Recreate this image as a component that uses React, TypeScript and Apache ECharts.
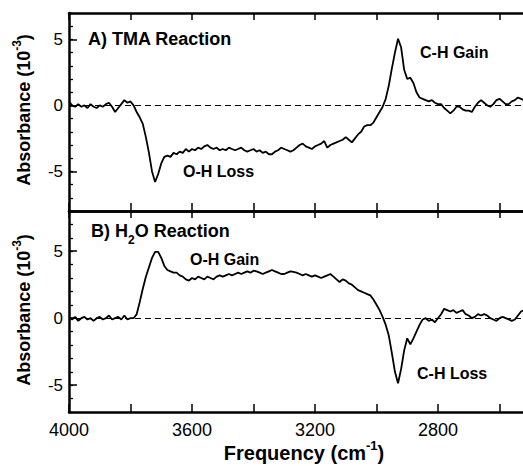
import React, { useEffect, useRef } from "react";
import * as echarts from "echarts";

// Frequency grid (cm-1), every 10 cm-1
const frequency = [
  4000, 3990, 3980, 3970, 3960, 3950, 3940, 3930, 3920, 3910,
  3900, 3890, 3880, 3870, 3860, 3850, 3840, 3830, 3820, 3810,
  3800, 3790, 3780, 3770, 3760, 3750, 3740, 3730, 3720, 3710,
  3700, 3690, 3680, 3670, 3660, 3650, 3640, 3630, 3620, 3610,
  3600, 3590, 3580, 3570, 3560, 3550, 3540, 3530, 3520, 3510,
  3500, 3490, 3480, 3470, 3460, 3450, 3440, 3430, 3420, 3410,
  3400, 3390, 3380, 3370, 3360, 3350, 3340, 3330, 3320, 3310,
  3300, 3290, 3280, 3270, 3260, 3250, 3240, 3230, 3220, 3210,
  3200, 3190, 3180, 3170, 3160, 3150, 3140, 3130, 3120, 3110,
  3100, 3090, 3080, 3070, 3060, 3050, 3040, 3030, 3020, 3010,
  3000, 2990, 2980, 2970, 2960, 2950, 2940, 2930, 2920, 2910,
  2900, 2890, 2880, 2870, 2860, 2850, 2840, 2830, 2820, 2810,
  2800, 2790, 2780, 2770, 2760, 2750, 2740, 2730, 2720, 2710,
  2700, 2690, 2680, 2670, 2660, 2650, 2640, 2630, 2620, 2610,
  2600, 2590, 2580, 2570, 2560, 2550, 2540, 2530, 2520,
];

// Panel A: TMA reaction, absorbance (10^-3)
const tmaAbsorbance = [
  0.3, 0.0, -0.1, 0.1, -0.1, 0.0, -0.2, 0.1, -0.1, -0.2,
  0.0, -0.1, 0.1, 0.2, -0.1, -0.5, -0.2, 0.1, 0.4, 0.2,
  0.3, 0.0, -0.5, -0.9, -1.4, -2.4, -3.6, -5.0, -5.8, -5.2,
  -4.4, -3.9, -3.8, -3.9, -3.6, -3.7, -3.5, -3.6, -3.3, -3.5,
  -3.3, -3.4, -3.2, -3.3, -3.1, -3.0, -3.2, -3.3, -3.2, -3.4,
  -3.3, -3.4, -3.2, -3.3, -3.4, -3.3, -3.2, -3.4, -3.5, -3.4,
  -3.3, -3.5, -3.4, -3.6, -3.5, -3.7, -3.7, -3.5, -3.4, -3.2,
  -3.3, -3.4, -3.5, -3.4, -3.2, -3.0, -2.9, -3.1, -3.2, -3.3,
  -3.1, -3.0, -2.9, -2.7, -3.2, -3.0, -2.9, -2.8, -2.7, -2.6,
  -2.4, -2.6, -2.8, -2.5, -2.2, -2.0, -1.6, -1.5, -1.5, -1.3,
  -0.9, -0.5, -0.1, 0.5, 1.5, 2.8, 4.0, 5.05, 4.4, 2.7,
  2.0, 2.1, 1.7, 1.0, 0.6, 0.5, 0.4, 0.3, 0.4, 0.2,
  0.1, 0.1, -0.2, -0.4, -0.6, -0.4, -0.1, -0.1, -0.3, -0.4,
  -0.4, -0.5, -0.1, 0.2, 0.4, 0.2, 0.0, -0.1, 0.1, 0.4,
  0.5, 0.3, 0.1, 0.1, 0.3, 0.4, 0.6, 0.5, 0.4,
];

// Panel B: H2O reaction, absorbance (10^-3)
const waterAbsorbance = [
  0.1, -0.1, 0.1, -0.2, 0.0, 0.1, -0.1, 0.0, -0.2, 0.0,
  0.1, -0.1, 0.0, 0.2, -0.1, 0.0, 0.1, -0.1, 0.2, -0.1,
  0.0, 0.0, 0.3, 1.2, 2.2, 3.1, 3.8, 4.5, 4.95, 4.95,
  4.5, 3.9, 3.6, 3.5, 3.4, 3.4, 3.2, 3.1, 2.9, 2.8,
  3.0, 2.9, 3.1, 3.0, 2.9, 3.1, 3.0, 2.9, 3.1, 3.2,
  3.1, 3.2, 3.3, 3.2, 3.3, 3.4, 3.3, 3.4, 3.5, 3.4,
  3.55, 3.5, 3.4, 3.3, 3.4, 3.5, 3.6, 3.5, 3.4, 3.3,
  3.3, 3.4, 3.5, 3.45, 3.4, 3.3, 3.2, 3.3, 3.2, 3.1,
  3.2, 3.1, 3.0, 3.1, 3.2, 3.3, 3.1, 2.9, 2.7, 2.9,
  2.8, 2.6, 2.5, 2.3, 2.1, 2.0, 1.9, 1.8, 1.7, 1.4,
  1.0, 0.6, 0.1, -0.5, -1.3, -2.6, -4.0, -4.85, -3.8, -2.4,
  -1.5, -1.95, -1.5, -1.0, -0.5, -0.1, 0.0, -0.2, -0.1, -0.3,
  0.0, 0.3, 0.7, 0.6, 0.5, 0.6, 0.4, 0.5, 0.6, 0.3,
  0.2, 0.0, 0.1, 0.3, 0.2, 0.3, 0.2, 0.0, -0.1, -0.2,
  0.0, 0.1, 0.0, -0.1, -0.2, -0.1, 0.2, 0.5, 0.6,
];

const yMajorTicks = [-5, 0, 5];
const xLabelTicks = [4000, 3600, 3200, 2800];

const FONT = "'Liberation Sans', Arial, Helvetica, sans-serif";

export default function App() {
  const ref = useRef<HTMLDivElement>(null);

  useEffect(() => {
    if (!ref.current) return;
    const chart = echarts.init(ref.current, null, { renderer: "svg" });

    const left = 69;
    const width = 492;
    const xBase = {
      type: "value" as const,
      min: 2400,
      max: 4000,
      interval: 200,
      inverse: true,
      splitLine: { show: false },
      axisLine: { show: true, onZero: false, lineStyle: { color: "#000", width: 2.5 } },
      axisTick: { show: true, inside: true, length: 8, lineStyle: { color: "#000", width: 1.5 } },
      axisLabel: { show: false },
    };

    // minor ticks every 1 unit, no labels
    const yMinor = (min: number, max: number, gridIndex: number) => ({
      type: "value" as const,
      gridIndex,
      min,
      max,
      interval: 1,
      position: "left" as const,
      splitLine: { show: false },
      axisLine: { show: true, onZero: false, lineStyle: { color: "#000", width: 2.5 } },
      axisTick: { show: true, inside: true, length: 4, lineStyle: { color: "#000", width: 1.3 } },
      axisLabel: { show: false },
    });
    // major ticks and labels at -5, 0, 5
    const yMajor = (min: number, max: number, gridIndex: number) => ({
      type: "value" as const,
      gridIndex,
      min,
      max,
      interval: 1,
      position: "left" as const,
      splitLine: { show: false },
      axisLine: { show: false },
      axisTick: {
        show: true,
        inside: true,
        length: 8,
        customValues: yMajorTicks,
        lineStyle: { color: "#000", width: 1.5 },
      },
      axisLabel: {
        show: true,
        customValues: yMajorTicks,
        margin: 6,
        color: "#000",
        fontSize: 17,
        fontFamily: FONT,
        formatter: (v: number) => String(v),
      },
    });

    const zeroLine = {
      silent: true,
      symbol: ["none", "none"],
      label: { show: false },
      lineStyle: { color: "#000", type: [6, 4], width: 1.2 },
      data: [{ yAxis: 0 }],
    };

    const textEl = (text: string, x: number, y: number, size: number) => ({
      type: "text",
      x,
      y,
      style: {
        text,
        fill: "#000",
        fontSize: size,
        fontWeight: "bold",
        fontFamily: FONT,
        align: "left",
        verticalAlign: "middle",
      },
    });

    const absRich = {
      a: { fontSize: 18, fontWeight: "bold", fontFamily: FONT, fill: "#000", lineHeight: 22, verticalAlign: "bottom" },
      s: { fontSize: 12, fontWeight: "bold", fontFamily: FONT, fill: "#000", lineHeight: 22, verticalAlign: "top" },
    };
    const absLabel = (y: number) => ({
      type: "text",
      x: 22,
      y,
      rotation: Math.PI / 2,
      style: {
        text: "{a|Absorbance (10}{s|-3}{a|)}",
        align: "center",
        verticalAlign: "middle",
        rich: absRich,
      },
    });

    chart.setOption({
      animation: false,
      backgroundColor: "#fff",
      grid: [
        { left, width, top: 13, height: 198 },
        { left, width, top: 211, height: 201 },
      ],
      xAxis: [
        { ...xBase, gridIndex: 0, position: "bottom" },
        { ...xBase, gridIndex: 0, position: "top", axisTick: { ...xBase.axisTick, length: 7 } },
        {
          ...xBase,
          gridIndex: 1,
          position: "bottom",
          axisLabel: {
            show: true,
            margin: 9,
            color: "#000",
            fontSize: 18,
            fontFamily: FONT,
            formatter: (v: number) => (xLabelTicks.indexOf(v) >= 0 ? String(v) : ""),
          },
        },
        { ...xBase, gridIndex: 1, position: "top", axisTick: { ...xBase.axisTick, length: 7 } },
      ],
      yAxis: [yMinor(-8, 7, 0), yMajor(-8, 7, 0), yMinor(-7, 8, 1), yMajor(-7, 8, 1)],
      series: [
        {
          name: "TMA Reaction",
          type: "line",
          xAxisIndex: 0,
          yAxisIndex: 0,
          data: frequency.map((f, i) => [f, tmaAbsorbance[i]]),
          showSymbol: false,
          symbol: "none",
          lineStyle: { color: "#000", width: 1.8 },
          markLine: zeroLine,
          z: 3,
        },
        {
          name: "H2O Reaction",
          type: "line",
          xAxisIndex: 2,
          yAxisIndex: 2,
          data: frequency.map((f, i) => [f, waterAbsorbance[i]]),
          showSymbol: false,
          symbol: "none",
          lineStyle: { color: "#000", width: 1.8 },
          markLine: zeroLine,
          z: 3,
        },
      ],
      graphic: [
        textEl("A) TMA Reaction", 88, 38.5, 18),
        textEl("O-H Loss", 183, 171.5, 16),
        textEl("C-H Gain", 420, 52.5, 16),
        {
          type: "text",
          x: 91,
          y: 233.5,
          style: {
            text: "{a|B) H}{b|2}{a|O Reaction}",
            align: "left",
            verticalAlign: "middle",
            rich: {
              a: { fontSize: 18, fontWeight: "bold", fontFamily: FONT, fill: "#000", lineHeight: 24, verticalAlign: "top" },
              b: { fontSize: 12, fontWeight: "bold", fontFamily: FONT, fill: "#000", lineHeight: 24, verticalAlign: "bottom" },
            },
          },
        },
        textEl("O-H Gain", 190, 259, 16),
        textEl("C-H Loss", 417, 373.5, 16),
        absLabel(110),
        absLabel(310),
        {
          type: "text",
          x: 304,
          y: 451,
          style: {
            text: "{a|Frequency (cm}{s|-1}{a|)}",
            align: "center",
            verticalAlign: "middle",
            rich: {
              a: { fontSize: 20, fontWeight: "bold", fontFamily: FONT, fill: "#000", lineHeight: 24, verticalAlign: "bottom" },
              s: { fontSize: 13, fontWeight: "bold", fontFamily: FONT, fill: "#000", lineHeight: 24, verticalAlign: "top" },
            },
          },
        },
      ],
    });

    return () => chart.dispose();
  }, []);

  return (
    <div style={{ position: "absolute", left: 0, top: 0, width: 523, height: 466, overflow: "hidden", background: "#fff" }}>
      <div ref={ref} style={{ width: 580, height: 466 }} />
    </div>
  );
}
